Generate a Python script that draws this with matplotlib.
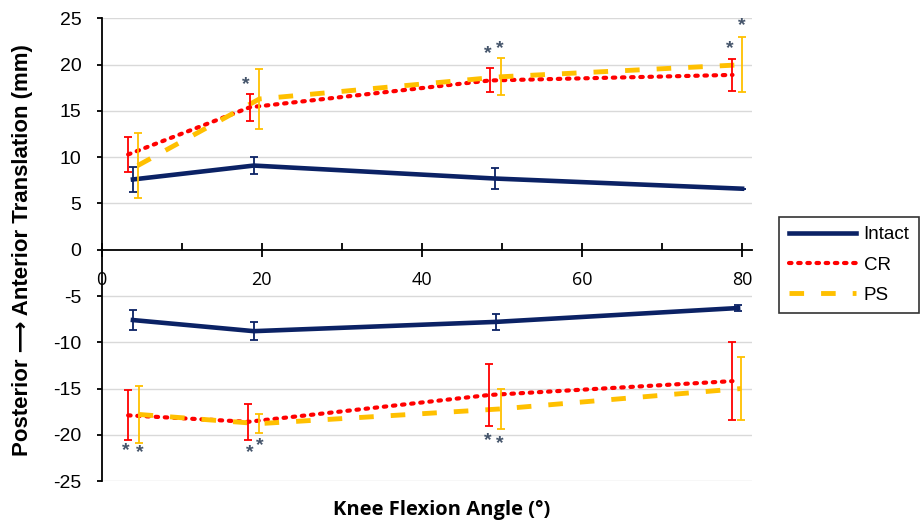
import numpy as np
import matplotlib.pyplot as plt

plt.rcParams['font.family'] = ['Liberation Sans', 'DejaVu Sans']
plt.rcParams['axes.unicode_minus'] = False

# knee flexion angles (slightly offset per series, as in the figure)
x_intact = [3.9, 19.0, 49.1, 80.0]
x_cr = [3.3, 18.5, 48.5, 78.8]
x_ps = [4.5, 19.7, 49.9, 80.0]
x_intact_lo = [3.9, 19.0, 49.2, 79.5]
x_cr_lo = [3.3, 18.3, 48.4, 78.8]
x_ps_lo = [4.6, 19.6, 49.9, 79.9]

# anterior translation (mm) and SD
intact_ant = [7.6, 9.1, 7.7, 6.6]
intact_ant_sd = [1.35, 0.9, 1.1, 0.0]
cr_ant = [10.3, 15.4, 18.3, 18.9]
cr_ant_sd = [1.9, 1.45, 1.3, 1.7]
ps_ant = [9.1, 16.3, 18.7, 20.0]
ps_ant_sd = [3.5, 3.25, 2.0, 3.0]

# posterior translation (mm) and SD
intact_post = [-7.6, -8.8, -7.8, -6.3]
intact_post_sd = [1.1, 1.0, 0.85, 0.3]
cr_post = [-17.9, -18.6, -15.7, -14.2]
cr_post_sd = [2.7, 1.95, 3.35, 4.25]
ps_post = [-17.8, -18.8, -17.2, -15.0]
ps_post_sd = [3.05, 1.05, 2.15, 3.4]

# significance markers
star_x = [18.0, 48.2, 49.7, 78.5, 79.9, 3.0, 4.7, 18.5, 19.7, 48.2, 49.7]
star_y = [17.9, 21.2, 21.8, 21.8, 24.2, -21.7, -21.9, -21.9, -21.2, -20.6, -21.0]

c_intact = '#0b2265'
c_cr = '#ff0000'
c_ps = '#ffc000'
dot = (0, (0.6, 1.6))
dash = (0, (3, 3.5))

fig = plt.figure(figsize=(9.23, 5.22), dpi=100)
ax = fig.add_axes([0.1102, 0.0785, 0.7042, 0.8861])

for y in range(-25, 30, 5):
    if y != 0:
        ax.axhline(y, color='#d9d9d9', lw=1, zorder=0)

ax.plot(x_intact, intact_ant, color=c_intact, lw=3.3, label='Intact')
ax.plot(x_cr, cr_ant, color=c_cr, lw=3, ls=dot, dash_capstyle='round', label='CR')
ax.plot(x_ps, ps_ant, color=c_ps, lw=3.5, ls=dash, label='PS')
ax.plot(x_intact_lo, intact_post, color=c_intact, lw=3.3)
ax.plot(x_cr_lo, cr_post, color=c_cr, lw=3, ls=dot, dash_capstyle='round')
ax.plot(x_ps_lo, ps_post, color=c_ps, lw=3.5, ls=dash)

for xs, ys, sd, c in [(x_intact, intact_ant, intact_ant_sd, c_intact),
                      (x_cr, cr_ant, cr_ant_sd, c_cr),
                      (x_ps, ps_ant, ps_ant_sd, c_ps),
                      (x_intact_lo, intact_post, intact_post_sd, c_intact),
                      (x_cr_lo, cr_post, cr_post_sd, c_cr),
                      (x_ps_lo, ps_post, ps_post_sd, c_ps)]:
    ax.errorbar(xs, ys, yerr=sd, fmt='none', ecolor=c, elinewidth=1.3,
                capsize=2.8, capthick=1.3)

for sx, sy in zip(star_x, star_y):
    ax.text(sx, sy, '*', color='#44546a', fontsize=14, fontweight='bold',
            ha='center', va='center')

ax.set_xlim(0, 81.2)
ax.set_ylim(-25, 25)
ax.set_yticks(range(-25, 30, 5))
ax.set_xticks([0, 20, 40, 60, 80])
ax.set_xticks([10, 30, 50, 70], minor=True)
ax.spines['top'].set_visible(False)
ax.spines['right'].set_visible(False)
ax.spines['bottom'].set_position(('data', 0))
ax.spines['left'].set_linewidth(1.3)
ax.spines['bottom'].set_linewidth(1.3)
ax.tick_params(axis='x', which='major', direction='inout', length=10, width=1.3,
               pad=10)
ax.tick_params(axis='x', which='minor', direction='in', length=5, width=1.3)
ax.tick_params(axis='y', direction='out', length=3.5, width=1.3, labelsize=14, pad=11)
for lab in ax.get_xticklabels():
    lab.set_fontfamily(['Open Sans', 'DejaVu Sans'])
    lab.set_fontsize(13)

fig.text(0.024, 0.52, 'Posterior \u27f6 Anterior Translation (mm)', rotation=90,
         ha='center', va='center', fontsize=16, fontweight='bold',
         family=['Liberation Sans', 'DejaVu Sans'])
fig.text(0.479, 0.023, 'Knee Flexion Angle (\u00b0)', ha='center', va='center',
         fontsize=14.5, fontweight='bold', family=['Open Sans', 'DejaVu Sans'])

leg = ax.legend(loc='center', bbox_to_anchor=(0.920, 0.4923), bbox_transform=fig.transFigure,
                fontsize=13.5, frameon=True, fancybox=False, edgecolor='black',
                handlelength=3.6, handletextpad=0.4, labelspacing=0.7, borderpad=0.5)
leg.get_frame().set_linewidth(1.2)

fig.savefig('out.png', dpi=100)
